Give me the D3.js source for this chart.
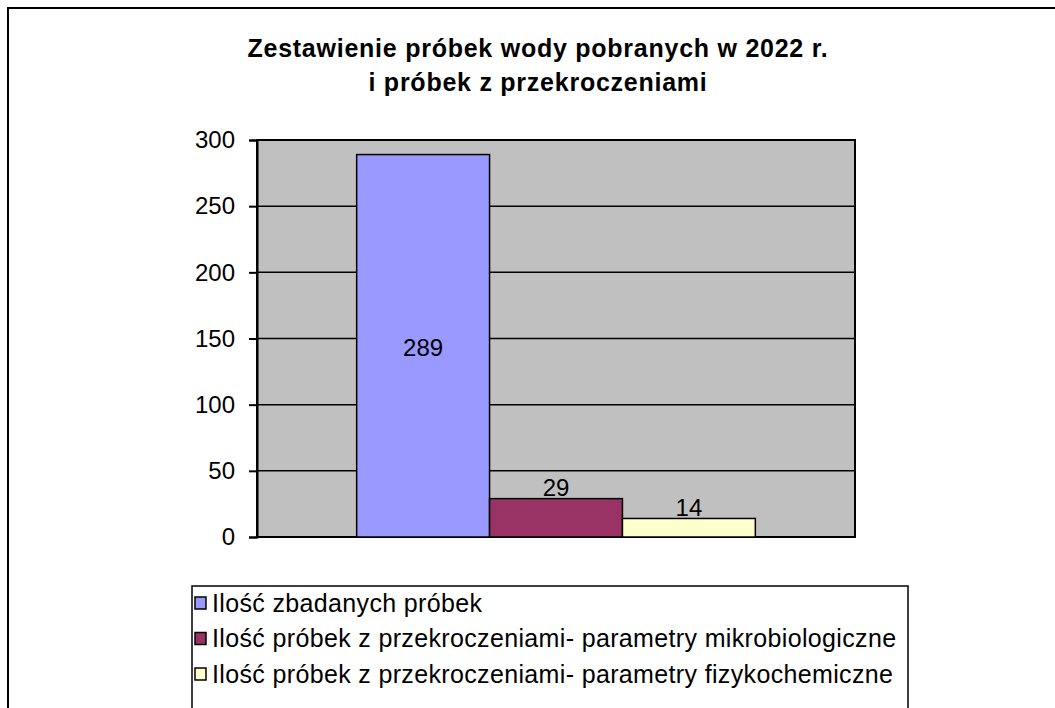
<!DOCTYPE html>
<html>
<head>
<meta charset="utf-8">
<script src="https://cdn.jsdelivr.net/npm/d3@7"></script>
<style>
  body { margin: 0; background: #fff; }
  svg text { font-family: "Liberation Sans", Arial, sans-serif; fill: #000; }
</style>
</head>
<body>
<div id="chart"></div>
<script>
// dane
const titleLines = ["Zestawienie próbek wody pobranych w 2022 r.", "i próbek z przekroczeniami"];
const seriesNames = [
    "Ilość zbadanych próbek",
    "Ilość próbek z przekroczeniami- parametry mikrobiologiczne",
    "Ilość próbek z przekroczeniami- parametry fizykochemiczne"
];
const seriesValues = [289, 29, 14];
const seriesColors = ["#9999FF", "#993366", "#FFFFCC"];
const yTicks = [0, 50, 100, 150, 200, 250, 300];

const width = 1055;
const height = 708;
const plot = { left: 257, top: 140, right: 855, bottom: 537 };

const svg = d3.select("#chart")
    .append("svg")
    .attr("width", width)
    .attr("height", height);

// ramka wykresu
svg.append("rect")
    .attr("x", 8).attr("y", 8)
    .attr("width", 1060).attr("height", 720)
    .attr("fill", "#fff")
    .attr("stroke", "#000")
    .attr("stroke-width", 2);

// tytuł
svg.selectAll(".title")
    .data(titleLines)
    .enter()
    .append("text")
    .attr("class", "title")
    .attr("x", 538)
    .attr("y", (d, i) => 48 + i * 34)
    .attr("dy", "0.35em")
    .style("text-anchor", "middle")
    .style("font-size", "25px")
    .style("font-weight", "bold")
    .style("letter-spacing", "0.75px")
    .text(d => d);

const yScale = d3.scaleLinear()
    .domain([0, 300])
    .range([plot.bottom, plot.top]);

const xScale = d3.scaleBand()
    .domain(seriesNames)
    .range([plot.left, plot.right])
    .paddingInner(0)
    .paddingOuter(0.75);

// tło
svg.append("rect")
    .attr("x", plot.left).attr("y", plot.top)
    .attr("width", plot.right - plot.left)
    .attr("height", plot.bottom - plot.top)
    .attr("fill", "#C0C0C0");

// linie siatki
svg.selectAll(".grid")
    .data(yTicks.filter(d => d > 0 && d < 300))
    .enter()
    .append("line")
    .attr("x1", plot.left).attr("x2", plot.right)
    .attr("y1", d => yScale(d)).attr("y2", d => yScale(d))
    .attr("stroke", "#000")
    .attr("stroke-width", 1.5);

svg.append("rect")
    .attr("x", plot.left).attr("y", plot.top)
    .attr("width", plot.right - plot.left)
    .attr("height", plot.bottom - plot.top)
    .attr("fill", "none")
    .attr("stroke", "#000")
    .attr("stroke-width", 2);

// oś Y
const yAxis = d3.axisLeft(yScale)
    .tickValues(yTicks)
    .tickSize(8)
    .tickPadding(14);

const yAxisGroup = svg.append("g")
    .attr("transform", `translate(${plot.left}, 0)`)
    .call(yAxis);
yAxisGroup.select(".domain").attr("stroke", "#000").attr("stroke-width", 2);
yAxisGroup.selectAll(".tick line").attr("stroke", "#000").attr("stroke-width", 2);
yAxisGroup.selectAll(".tick text")
    .style("font-size", "24px")
    .style("font-family", "Liberation Sans, Arial, sans-serif")
    .attr("fill", "#000");

// słupki
svg.selectAll(".bar")
    .data(seriesValues)
    .enter()
    .append("rect")
    .attr("class", "bar")
    .attr("x", (d, i) => xScale(seriesNames[i]))
    .attr("y", d => yScale(d))
    .attr("width", xScale.bandwidth())
    .attr("height", d => yScale(0) - yScale(d))
    .attr("fill", (d, i) => seriesColors[i])
    .attr("stroke", "#000")
    .attr("stroke-width", 1.5);

// etykiety danych
svg.selectAll(".label")
    .data(seriesValues)
    .enter()
    .append("text")
    .attr("x", (d, i) => xScale(seriesNames[i]) + xScale.bandwidth() / 2)
    .attr("y", (d, i) => i === 0 ? (yScale(d) + yScale(0)) / 2 + 2 : yScale(d) - 11)
    .attr("dy", "0.35em")
    .style("text-anchor", "middle")
    .style("font-size", "24px")
    .text(d => d);

// legenda
const legend = svg.append("g").attr("transform", "translate(192, 586)");
legend.append("rect")
    .attr("width", 716).attr("height", 140)
    .attr("fill", "#fff")
    .attr("stroke", "#000")
    .attr("stroke-width", 1.5);

const items = legend.selectAll(".item")
    .data(seriesNames)
    .enter()
    .append("g")
    .attr("transform", (d, i) => `translate(0, ${17 + i * 35.5})`);

items.append("rect")
    .attr("x", 3).attr("y", -6)
    .attr("width", 11).attr("height", 12)
    .attr("fill", (d, i) => seriesColors[i])
    .attr("stroke", "#000")
    .attr("stroke-width", 1.5);

items.append("text")
    .attr("x", 20)
    .attr("dy", "0.35em")
    .style("font-size", "25px")
    .style("letter-spacing", "0.35px")
    .text(d => d);
</script>
</body>
</html>
